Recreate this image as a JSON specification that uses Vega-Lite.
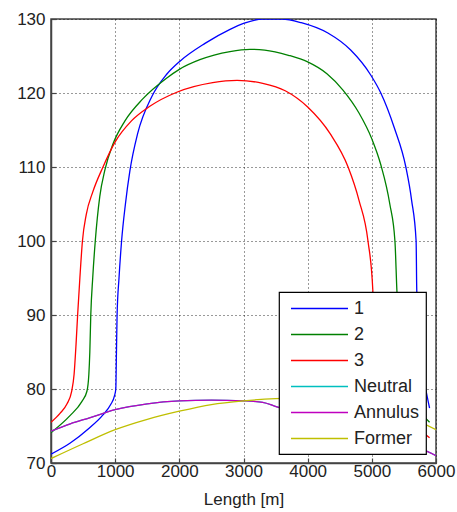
{
  "$schema": "https://vega.github.io/schema/vega-lite/v6.json",
  "width": 385,
  "height": 444,
  "autosize": {"type": "none"},
  "padding": {"left": 51, "top": 19, "right": 21, "bottom": 49},
  "background": "white",
  "config": {
    "view": {"stroke": "#444", "strokeWidth": 1.5},
    "font": "Liberation Sans",
    "legend": {"strokeWidth": 1.2},
    "axis": {
      "labelFont": "Liberation Sans",
      "labelFontSize": 17,
      "labelColor": "#222",
      "titleFont": "Liberation Sans",
      "titleFontSize": 17,
      "titleFontWeight": "normal",
      "titleColor": "#222",
      "domainColor": "#444",
      "domainWidth": 1.5,
      "tickColor": "#444",
      "tickSize": -5,
      "tickWidth": 1.2,
      "gridColor": "#000",
      "gridDash": [1, 3],
      "gridOpacity": 0.8,
      "gridWidth": 1
    }
  },
  "data": {
    "values": [
      {"s": "1", "x": 0, "y": 71.2}, {"s": "1", "x": 300, "y": 72.7}, {"s": "1", "x": 580, "y": 74.6}, {"s": "1", "x": 810, "y": 76.5}, {"s": "1", "x": 930, "y": 77.9}, {"s": "1", "x": 990, "y": 79.1}, {"s": "1", "x": 1010, "y": 80}, {"s": "1", "x": 1020, "y": 85}, {"s": "1", "x": 1030, "y": 90}, {"s": "1", "x": 1060, "y": 95}, {"s": "1", "x": 1100, "y": 100}, {"s": "1", "x": 1160, "y": 105}, {"s": "1", "x": 1230, "y": 109.5}, {"s": "1", "x": 1350, "y": 114.5}, {"s": "1", "x": 1570, "y": 119.5}, {"s": "1", "x": 1800, "y": 122.5}, {"s": "1", "x": 2010, "y": 124.3}, {"s": "1", "x": 2400, "y": 126.7}, {"s": "1", "x": 2790, "y": 128.6}, {"s": "1", "x": 3000, "y": 129.4}, {"s": "1", "x": 3300, "y": 130}, {"s": "1", "x": 3600, "y": 130}, {"s": "1", "x": 3900, "y": 129.5}, {"s": "1", "x": 4315, "y": 128.1}, {"s": "1", "x": 4670, "y": 125.8}, {"s": "1", "x": 4985, "y": 122.4}, {"s": "1", "x": 5140, "y": 120}, {"s": "1", "x": 5350, "y": 115.3}, {"s": "1", "x": 5530, "y": 110}, {"s": "1", "x": 5620, "y": 105.5}, {"s": "1", "x": 5690, "y": 100}, {"s": "1", "x": 5700, "y": 93.4}, {"s": "1", "x": 5730, "y": 88}, {"s": "1", "x": 5780, "y": 83}, {"s": "1", "x": 5840, "y": 80}, {"s": "1", "x": 5900, "y": 77.4},
      {"s": "2", "x": 0, "y": 74.1}, {"s": "2", "x": 296, "y": 76.4}, {"s": "2", "x": 480, "y": 78.3}, {"s": "2", "x": 560, "y": 79.7}, {"s": "2", "x": 590, "y": 82}, {"s": "2", "x": 605, "y": 85}, {"s": "2", "x": 620, "y": 90}, {"s": "2", "x": 650, "y": 95}, {"s": "2", "x": 690, "y": 100}, {"s": "2", "x": 760, "y": 106}, {"s": "2", "x": 840, "y": 109.6}, {"s": "2", "x": 970, "y": 113.2}, {"s": "2", "x": 1150, "y": 116.2}, {"s": "2", "x": 1430, "y": 119.2}, {"s": "2", "x": 1800, "y": 122}, {"s": "2", "x": 2000, "y": 123.2}, {"s": "2", "x": 2320, "y": 124.5}, {"s": "2", "x": 2790, "y": 125.6}, {"s": "2", "x": 3100, "y": 125.9}, {"s": "2", "x": 3330, "y": 125.8}, {"s": "2", "x": 3700, "y": 125.1}, {"s": "2", "x": 4000, "y": 124.2}, {"s": "2", "x": 4300, "y": 122.6}, {"s": "2", "x": 4550, "y": 120.4}, {"s": "2", "x": 4800, "y": 117.3}, {"s": "2", "x": 5000, "y": 113.8}, {"s": "2", "x": 5140, "y": 110.3}, {"s": "2", "x": 5280, "y": 105}, {"s": "2", "x": 5360, "y": 100}, {"s": "2", "x": 5390, "y": 93.4}, {"s": "2", "x": 5420, "y": 88}, {"s": "2", "x": 5480, "y": 83}, {"s": "2", "x": 5600, "y": 79.5}, {"s": "2", "x": 5750, "y": 77}, {"s": "2", "x": 5900, "y": 75.5},
      {"s": "3", "x": 0, "y": 75.5}, {"s": "3", "x": 140, "y": 76.7}, {"s": "3", "x": 250, "y": 78}, {"s": "3", "x": 320, "y": 79.6}, {"s": "3", "x": 360, "y": 82}, {"s": "3", "x": 390, "y": 86}, {"s": "3", "x": 415, "y": 90}, {"s": "3", "x": 450, "y": 95}, {"s": "3", "x": 490, "y": 100}, {"s": "3", "x": 550, "y": 103.6}, {"s": "3", "x": 650, "y": 106.6}, {"s": "3", "x": 810, "y": 110}, {"s": "3", "x": 1000, "y": 113.4}, {"s": "3", "x": 1250, "y": 116.2}, {"s": "3", "x": 1540, "y": 118.2}, {"s": "3", "x": 1960, "y": 120.1}, {"s": "3", "x": 2520, "y": 121.4}, {"s": "3", "x": 2900, "y": 121.7}, {"s": "3", "x": 3300, "y": 121.3}, {"s": "3", "x": 3650, "y": 120.3}, {"s": "3", "x": 4000, "y": 118.1}, {"s": "3", "x": 4350, "y": 114.5}, {"s": "3", "x": 4630, "y": 110}, {"s": "3", "x": 4800, "y": 105.5}, {"s": "3", "x": 4940, "y": 100}, {"s": "3", "x": 5015, "y": 93.4}, {"s": "3", "x": 5040, "y": 88}, {"s": "3", "x": 5100, "y": 83}, {"s": "3", "x": 5250, "y": 79}, {"s": "3", "x": 5500, "y": 76.5}, {"s": "3", "x": 5750, "y": 74.5}, {"s": "3", "x": 5900, "y": 73.4},
      {"s": "Neutral", "x": 0, "y": 74.3}, {"s": "Neutral", "x": 300, "y": 75.3}, {"s": "Neutral", "x": 600, "y": 76.1}, {"s": "Neutral", "x": 1000, "y": 77.2}, {"s": "Neutral", "x": 1500, "y": 78}, {"s": "Neutral", "x": 2000, "y": 78.4}, {"s": "Neutral", "x": 2500, "y": 78.5}, {"s": "Neutral", "x": 3000, "y": 78.4}, {"s": "Neutral", "x": 3300, "y": 78.2}, {"s": "Neutral", "x": 3520, "y": 77.6}, {"s": "Neutral", "x": 4000, "y": 76.7}, {"s": "Neutral", "x": 4500, "y": 75.6}, {"s": "Neutral", "x": 5000, "y": 74.4}, {"s": "Neutral", "x": 5500, "y": 72.8}, {"s": "Neutral", "x": 5750, "y": 72}, {"s": "Neutral", "x": 6000, "y": 71},
      {"s": "Annulus", "x": 0, "y": 74.3}, {"s": "Annulus", "x": 300, "y": 75.3}, {"s": "Annulus", "x": 600, "y": 76.1}, {"s": "Annulus", "x": 1000, "y": 77.2}, {"s": "Annulus", "x": 1500, "y": 78}, {"s": "Annulus", "x": 2000, "y": 78.4}, {"s": "Annulus", "x": 2500, "y": 78.5}, {"s": "Annulus", "x": 3000, "y": 78.4}, {"s": "Annulus", "x": 3300, "y": 78.2}, {"s": "Annulus", "x": 3520, "y": 77.6}, {"s": "Annulus", "x": 4000, "y": 76.7}, {"s": "Annulus", "x": 4500, "y": 75.6}, {"s": "Annulus", "x": 5000, "y": 74.4}, {"s": "Annulus", "x": 5500, "y": 72.8}, {"s": "Annulus", "x": 5750, "y": 72}, {"s": "Annulus", "x": 6000, "y": 71},
      {"s": "Former", "x": 0, "y": 70.6}, {"s": "Former", "x": 500, "y": 72.6}, {"s": "Former", "x": 1000, "y": 74.5}, {"s": "Former", "x": 1500, "y": 75.9}, {"s": "Former", "x": 2000, "y": 77}, {"s": "Former", "x": 2500, "y": 77.9}, {"s": "Former", "x": 3000, "y": 78.4}, {"s": "Former", "x": 3500, "y": 78.7}, {"s": "Former", "x": 4000, "y": 78.8}, {"s": "Former", "x": 4500, "y": 78.5}, {"s": "Former", "x": 5000, "y": 77.8}, {"s": "Former", "x": 5500, "y": 76.5}, {"s": "Former", "x": 6000, "y": 74.5}
    ]
  },
  "mark": {"type": "line", "strokeWidth": 1.3, "clip": true, "interpolate": "monotone"},
  "encoding": {
    "x": {
      "field": "x", "type": "quantitative",
      "scale": {"domain": [0, 6000], "nice": false},
      "axis": {"values": [0, 1000, 2000, 3000, 4000, 5000, 6000], "format": "d", "title": "Length [m]", "labelPadding": 5, "titlePadding": 12, "labelFlush": false}
    },
    "y": {
      "field": "y", "type": "quantitative",
      "scale": {"domain": [70, 130], "nice": false, "zero": false},
      "axis": {"values": [70, 80, 90, 100, 110, 120, 130], "format": "d", "title": null, "labelPadding": 11, "labelFlush": false}
    },
    "color": {
      "field": "s", "type": "nominal",
      "scale": {
        "domain": ["1", "2", "3", "Neutral", "Annulus", "Former"],
        "range": ["#0000FF", "#008000", "#FF0000", "#00BFBF", "#BF00BF", "#BFBF00"]
      },
      "legend": {
        "title": null,
        "orient": "none",
        "legendX": 228,
        "legendY": 273,
        "fillColor": "white",
        "strokeColor": "black",
        "padding": 6,
        "symbolType": "M-3,0H3",
        "symbolSize": 361,
        "symbolStrokeWidth": 1.5,
        "symbolOffset": 24,
        "labelFont": "Liberation Sans",
        "labelFontSize": 18,
        "labelColor": "#222",
        "labelOffset": 24,
        "rowPadding": 6,
        "columnPadding": 0
      }
    }
  }
}
